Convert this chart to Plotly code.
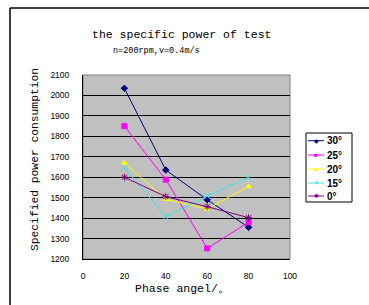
import plotly.graph_objects as go

phase_angles = [20, 40, 60, 80]
series_names = ["30°", "25°", "20°", "15°", "0°"]
values_30 = [2035, 1635, 1490, 1355]
values_25 = [1850, 1588, 1252, 1380]
values_20 = [1670, 1492, 1445, 1555]
values_15 = [1645, 1407, 1508, 1600]
values_0 = [1600, 1505, 1456, 1402]
x_ticks = [0, 20, 40, 60, 80, 100]
y_ticks = [1200, 1300, 1400, 1500, 1600, 1700, 1800, 1900, 2000, 2100]

series_values = [values_30, values_25, values_20, values_15, values_0]
colors = ["#000080", "#ff00ff", "#ffff00", "#40e0e0", "#800080"]
symbols = ["diamond", "square", "triangle-up", "x-thin-open", "asterisk-open"]
sizes = [5, 5, 5, 6, 6]
legend_glyphs = ["◆", "■", "▲", "✕", "✱"]

W, H = 369, 305
L, R, T, B = 83, 290, 75, 259
fig = go.Figure()
for name, vals, c, s, sz in zip(series_names, series_values, colors, symbols, sizes):
    fig.add_trace(go.Scatter(
        x=phase_angles, y=vals, name=name, mode="lines+markers",
        line=dict(color=c, width=1),
        marker=dict(symbol=s, size=sz, color=c, line=dict(color=c, width=1)),
        showlegend=False,
    ))

def px(x):
    return (x - L) / (R - L)
def py(y):
    return (B - y) / (B - T)

mono = "Liberation Mono"
annotations = [
    dict(text="the specific power of test", x=px(181), y=py(34)),
    dict(text="n=200rpm,v=0.4m/s", x=px(156), y=py(51), font=dict(family=mono, size=8.5, color="black")),
    dict(text="Specified power consumption", x=px(35), y=py(160), textangle=-90,
         font=dict(family=mono, size=11.3, color="black")),
    dict(text="Phase angel/。", x=px(182), y=py(288), font=dict(family=mono, size=11.5, color="black")),
]
for a in annotations:
    a.update(xref="paper", yref="paper", showarrow=False, xanchor="center", yanchor="middle")
    a.setdefault("font", dict(family=mono, size=11.5, color="black"))

shapes = [
    dict(type="line", x0=px(10), x1=px(369), y0=py(8), y1=py(8), line=dict(color="black", width=1.5)),
    dict(type="line", x0=px(10), x1=px(10), y0=py(8), y1=py(305), line=dict(color="black", width=1.5)),
    dict(type="rect", x0=0, x1=1, y0=0, y1=1, line=dict(color="#808080", width=1), layer="below"),
    dict(type="rect", x0=px(306), x1=px(352), y0=py(133), y1=py(202), line=dict(color="black", width=1),
         fillcolor="white"),
]
# custom compact legend
leg_y = [140.7, 155, 169, 183, 196]
for name, c, g, yy in zip(series_names, colors, legend_glyphs, leg_y):
    shapes.append(dict(type="line", x0=px(308), x1=px(324), y0=py(yy), y1=py(yy), line=dict(color=c, width=1)))
    annotations.append(dict(text=g, x=px(316), y=py(yy), xref="paper", yref="paper", showarrow=False,
                            xanchor="center", yanchor="middle", font=dict(size=6, color=c)))
    annotations.append(dict(text="<b>" + name + "</b>", x=px(325), y=py(yy), xref="paper", yref="paper",
                            showarrow=False, xanchor="left", yanchor="middle",
                            font=dict(family="Liberation Sans", size=10, color="black")))
for s in shapes:
    s.update(xref="paper", yref="paper")

fig.update_layout(
    width=W, height=H,
    margin=dict(l=L, r=W - R, t=T, b=H - B, pad=0),
    paper_bgcolor="white", plot_bgcolor="#c0c0c0",
    showlegend=False,
    xaxis=dict(range=[0, 100], tickvals=x_ticks, showgrid=False, zeroline=False, automargin=False,
               showline=True, linecolor="black", linewidth=1, ticks="", ticklabelstandoff=9,
               tickfont=dict(family="Liberation Sans", size=8.5, color="black")),
    yaxis=dict(range=[1200, 2100], tickvals=y_ticks, showgrid=True, gridcolor="black", gridwidth=1,
               zeroline=False, showline=True, linecolor="black", linewidth=1, ticks="", automargin=False,
               ticklabelstandoff=11,
               tickfont=dict(family="Liberation Sans", size=8.5, color="black")),
    annotations=annotations,
    shapes=shapes,
)
fig.write_html("out.html", config={"displayModeBar": False},
               post_script="document.body.style.margin='0';document.body.style.overflow='hidden';")
